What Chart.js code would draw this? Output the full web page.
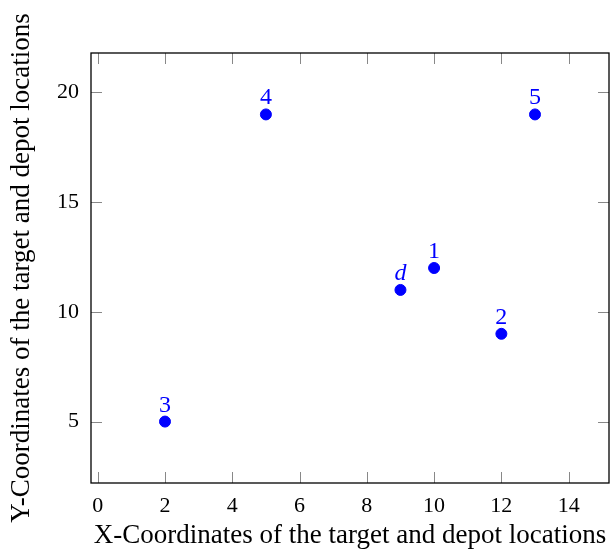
<!DOCTYPE html>
<html>
<head>
<meta charset="utf-8">
<script src="https://cdn.jsdelivr.net/npm/chart.js@4/dist/chart.umd.min.js"></script>
<style>
  html, body { margin: 0; padding: 0; background: #fff; }
  #wrap { width: 611px; height: 552px; }
</style>
</head>
<body>
<div id="wrap"><canvas id="locChart" width="611" height="552"></canvas></div>
<script>
// data: target and depot locations
const labels = ['d', '1', '2', '3', '4', '5'];
const xs = [9, 10, 12, 2, 5, 13];
const ys = [11, 12, 9, 5, 19, 19];

// axis ranges / ticks
const xRange = [-0.2, 15.2];
const yRange = [2.2, 21.8];
const xStep = 2;
const yStep = 5;

const serif = '"Liberation Serif", "Times New Roman", serif';

// frame + inward ticks on all four sides
const framePlugin = {
    id: 'frame',
    afterDraw(chart) {
        const { ctx, chartArea: a, scales } = chart;
        const len = 11;
        ctx.save();
        ctx.strokeStyle = '#888';
        ctx.lineWidth = 1;
        ctx.beginPath();
        scales.x.ticks.forEach(t => {
            const px = Math.round(scales.x.getPixelForValue(t.value)) + 0.5;
            ctx.moveTo(px, a.bottom); ctx.lineTo(px, a.bottom - len);
            ctx.moveTo(px, a.top); ctx.lineTo(px, a.top + len);
        });
        scales.y.ticks.forEach(t => {
            const py = Math.round(scales.y.getPixelForValue(t.value)) + 0.5;
            ctx.moveTo(a.left, py); ctx.lineTo(a.left + len, py);
            ctx.moveTo(a.right, py); ctx.lineTo(a.right - len, py);
        });
        ctx.stroke();
        ctx.strokeStyle = '#000';
        ctx.lineWidth = 1.3;
        ctx.strokeRect(a.left, a.top, a.right - a.left, a.bottom - a.top);
        ctx.restore();
    }
};

// point labels above each marker
const labelPlugin = {
    id: 'pointLabels',
    afterDatasetsDraw(chart) {
        const { ctx } = chart;
        const meta = chart.getDatasetMeta(0);
        ctx.save();
        ctx.fillStyle = '#0000ff';
        ctx.textAlign = 'center';
        ctx.textBaseline = 'alphabetic';
        meta.data.forEach((el, i) => {
            const lbl = labels[i];
            ctx.font = (lbl === 'd' ? 'italic ' : '') + '24px ' + serif;
            ctx.fillText(lbl, el.x, el.y - 10);
        });
        ctx.restore();
    }
};

const ctx = document.getElementById('locChart').getContext('2d');
const locChart = new Chart(ctx, {
    type: 'scatter',
    data: {
        datasets: [{
            label: 'locations',
            data: xs.map((x, i) => ({ x: x, y: ys[i] })),
            backgroundColor: '#0000ff',
            borderColor: '#0000ff',
            pointRadius: 5.5,
            pointHoverRadius: 5.5
        }]
    },
    options: {
        responsive: false,
        animation: false,
        layout: { autoPadding: false, padding: { top: 53, right: 2, left: 0, bottom: 0 } },
        plugins: {
            legend: { display: false },
            tooltip: { enabled: false }
        },
        scales: {
            x: {
                type: 'linear',
                min: xRange[0],
                max: xRange[1],
                grid: { display: false, drawTicks: false },
                border: { display: false },
                ticks: {
                    stepSize: xStep,
                    includeBounds: false,
                    color: '#000',
                    padding: 10,
                    maxRotation: 0,
                    font: { family: serif, size: 22 }
                },
                title: {
                    display: true,
                    text: 'X-Coordinates of the target and depot locations',
                    color: '#000',
                    padding: { top: 2, bottom: 0 },
                    font: { family: serif, size: 27 }
                },
                afterFit(scale) {
                    scale.height = 69;
                    scale.paddingLeft = 0;
                    scale.paddingRight = 0;
                }
            },
            y: {
                type: 'linear',
                min: yRange[0],
                max: yRange[1],
                grid: { display: false, drawTicks: false },
                border: { display: false },
                ticks: {
                    stepSize: yStep,
                    includeBounds: false,
                    color: '#000',
                    padding: 12,
                    font: { family: serif, size: 22 }
                },
                title: {
                    display: true,
                    text: 'Y-Coordinates of the target and depot locations',
                    color: '#000',
                    padding: { top: 6, bottom: 0 },
                    font: { family: serif, size: 27 }
                },
                afterFit(scale) {
                    scale.width = 91;
                    scale.paddingTop = 0;
                    scale.paddingBottom = 0;
                }
            }
        }
    },
    plugins: [framePlugin, labelPlugin]
});
</script>
</body>
</html>
